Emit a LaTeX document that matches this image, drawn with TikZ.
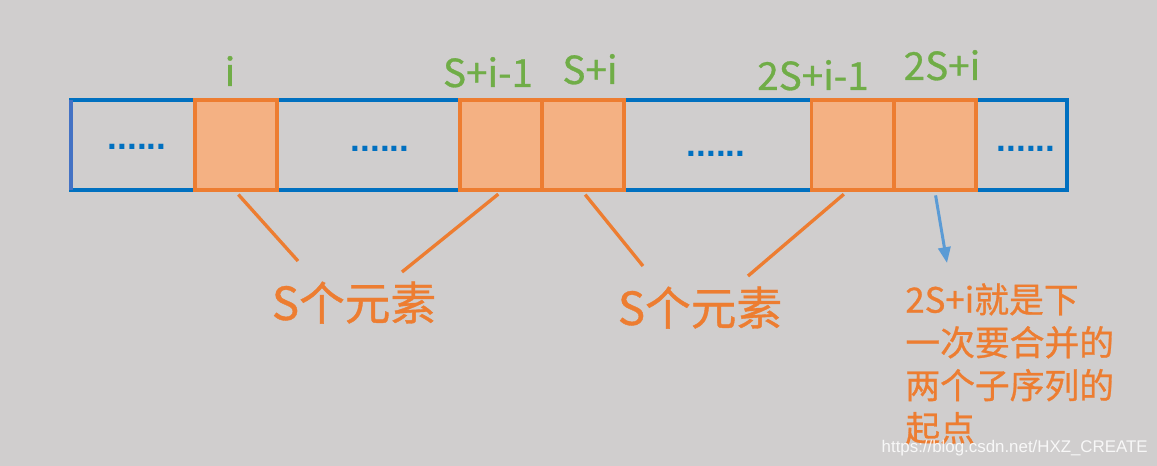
\documentclass[tikz,border=0pt]{standalone}
\usepackage{fontspec}
\usepackage{tikz}
\usetikzlibrary{arrows.meta}
\newfontfamily\cjk{Noto Sans CJK SC}[FakeBold=0.8]
\newfontfamily\arial{Liberation Sans}
\definecolor{fondo}{HTML}{D0CECE}
\definecolor{naranja}{HTML}{ED7D31}
\definecolor{naranjaclaro}{HTML}{F4B183}
\definecolor{verde}{HTML}{70AD47}
\definecolor{azul}{HTML}{0070C0}
\definecolor{azulborde}{HTML}{4472C4}
\definecolor{azulflecha}{HTML}{5B9BD5}

\begin{document}
\begin{tikzpicture}[x=0.02cm, y=-0.02cm,
        celda/.style={draw=naranja, fill=naranjaclaro, line width=2.2pt,
            minimum width=1.64cm, minimum height=1.8cm, inner sep=0pt},
        indice/.style={text=verde, anchor=base, inner sep=0pt,
            font=\cjk\fontsize{22}{22}\selectfont},
        puntos/.style={text=azul, anchor=base, inner sep=0pt,
            font=\arial\bfseries\fontsize{20}{20}\selectfont},
        grupo/.style={text=naranja, anchor=base, inner sep=0pt,
            font=\cjk\fontsize{26}{26}\selectfont},
        enlace/.style={draw=naranja, line width=1.9pt, shorten <=2pt}]
        % Fondo
        \fill[fondo] (0,0) rectangle (1157,466);
        
        % Fila de elementos
        \draw[azul, line width=2pt] (71,100) rectangle (1067,190);
        \draw[azulborde, line width=2pt] (71,100) -- (71,190);
        \node[celda] (c1) at (236,145) {};
        \node[celda] (c2) at (501,145) {};
        \node[celda] (c3) at (583,145) {};
        \node[celda] (c4) at (852.5,145) {};
        \node[celda] (c5) at (935,145) {};
        \node[puntos] (p1) at (137,150) {......};
        \node[puntos] (p2) at (380,152) {......};
        \node[puntos] (p3) at (716,156) {......};
        \node[puntos] (p4) at (1026,152) {......};
        
        % Indices
        \node[indice] (li) at (230,86) {i};
        \node[indice] (lsi1) at (488,87) {S+i-1};
        \node[indice] (lsi) at (590,84) {S+i};
        \node[indice] (l2si1) at (813,90) {2S+i-1};
        \node[indice] (l2si) at (942,80) {2S+i};
        
        % Grupos de S elementos
        \node[grupo] (g1) at (354,320) {S个元素};
        \node[grupo] (g2) at (700,325) {S个元素};
        \coordinate (e1) at (298,261);
        \coordinate (e2) at (402,272);
        \coordinate (e3) at (643,266);
        \coordinate (e4) at (748,276);
        \draw[enlace] (c1.south) -- (e1);
        \draw[enlace] (c2.south) -- (e2);
        \draw[enlace] (c3.south) -- (e3);
        \draw[enlace] ([xshift=-0.12cm]c4.south) -- (e4);
        
        % Siguiente par
        \coordinate (punta) at (947,263);
        \draw[azulflecha, line width=1.7pt, shorten <=2pt,
            -{Triangle[length=9pt, width=7pt]}] (c5.south) -- (punta);
        \node[text=naranja, anchor=north west, inner sep=0pt, align=left,
            font=\cjk\fontsize{19.8}{24.4}\selectfont] (nota) at (905,283)
            {2S+i就是下\\一次要合并的\\两个子序列的\\起点};
        
        % Marca de agua
        \node[text=white, opacity=0.85, anchor=base east, inner sep=0pt,
            font=\arial\fontsize{9.6}{9.6}\selectfont] (marca) at (1148,452)
            {https://blog.csdn.net/HXZ\_CREATE};
    \end{tikzpicture}
\end{document}
